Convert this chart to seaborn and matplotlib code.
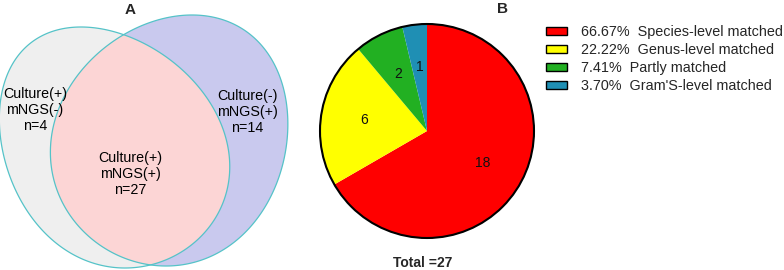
import numpy as np
import matplotlib
matplotlib.use("Agg")
import matplotlib.pyplot as plt
from matplotlib.patches import Polygon, Circle, Patch
import seaborn as sns

# ---------------------------------------------------------
# data
# ---------------------------------------------------------
venn_labels = ["Culture(+)\nmNGS(-)", "Culture(+)\nmNGS(+)", "Culture(-)\nmNGS(+)"]
venn_counts = [4, 27, 14]

pie_labels = ["Species-level matched", "Genus-level matched", "Partly matched", "Gram'S-level matched"]
pie_counts = [18, 6, 2, 1]
pie_colors = ["#ff0000", "#ffff00", "#22b022", "#1f8fb4"]

# ---------------------------------------------------------
# style
# ---------------------------------------------------------
sns.set_theme(style="white")
plt.rcParams["font.family"] = ["Liberation Sans", "DejaVu Sans"]

fig = plt.figure(figsize=(7.84, 2.7), dpi=100)


def egg(cx, cy, a, b, s1, s2, n=400):
    # slightly skewed ellipse, pixel coords (y grows downward)
    t = np.linspace(0, 2 * np.pi, n)
    st = np.sin(t)
    x = cx + a * np.cos(t) + s1 * st + s2 * st ** 2
    y = cy - b * st
    return np.column_stack([x, y])


# ---------------------------------------------------------
# A: venn
# ---------------------------------------------------------
ax1 = fig.add_axes([0, 0, 400 / 784, 1])
ax1.set_xlim(0, 400)
ax1.set_ylim(270, 0)
ax1.axis("off")

edge = "#55c3c8"
left_pts = egg(115, 147.5, 113, 120.5, -22, -12)
right_pts = egg(169, 140.5, 118, 125.5, 13, 10)

left = Polygon(left_pts, closed=True, fc="#efefef", ec="none")
right = Polygon(right_pts, closed=True, fc="#c9c9ee", ec="none")
ax1.add_patch(left)
ax1.add_patch(right)
inter = Polygon(right_pts, closed=True, fc="#fcd5d5", ec="none")
ax1.add_patch(inter)
inter.set_clip_path(left)
ax1.add_patch(Polygon(left_pts, closed=True, fill=False, ec=edge, lw=0.9))
ax1.add_patch(Polygon(right_pts, closed=True, fill=False, ec=edge, lw=0.9))

venn_pos = [(35, 110), (130, 174), (247, 112)]
for (x, y), lab, n in zip(venn_pos, venn_labels, venn_counts):
    ax1.text(x, y, f"{lab}\nn={n}", ha="center", va="center",
             multialignment="center", fontsize=10.3, color="black")

ax1.text(130, 10, "A", ha="center", va="center", fontsize=11, fontweight="bold")

# ---------------------------------------------------------
# B: pie
# ---------------------------------------------------------
ax2 = fig.add_axes([320 / 784, 32 / 270, 214 / 784, 214 / 270])
total = sum(pie_counts)
ax2.pie(pie_counts, colors=pie_colors, startangle=90, counterclock=False,
        radius=1, wedgeprops=dict(linewidth=0),
        autopct=lambda p: f"{round(p * total / 100)}", pctdistance=0.6,
        textprops=dict(fontsize=10, color="#111111"))
ax2.add_patch(Circle((0, 0), 1, fill=False, ec="black", lw=1.5, clip_on=False))
ax2.set_xlim(-1, 1)
ax2.set_ylim(-1, 1)
ax2.axis("off")

fig.text(503 / 784, 1 - 9 / 270, "B", ha="center", va="center", fontsize=11, fontweight="bold")
fig.text(423 / 784, 1 - 263 / 270, f"Total ={total}", ha="center", va="center",
         fontsize=10, fontweight="bold")

handles = [Patch(fc=c, ec="black", lw=1.0) for c in pie_colors]
legend_texts = [f"{c / total * 100:.2f}%  {lab}" for c, lab in zip(pie_counts, pie_labels)]
fig.legend(handles, legend_texts, loc="upper left", bbox_to_anchor=(546 / 784, 1 - 25 / 270),
           frameon=False, fontsize=10.4, borderpad=0, borderaxespad=0,
           handlelength=1.45, handleheight=0.55, handletextpad=1.0, labelspacing=0.28)

fig.savefig("out.png", dpi=100)
